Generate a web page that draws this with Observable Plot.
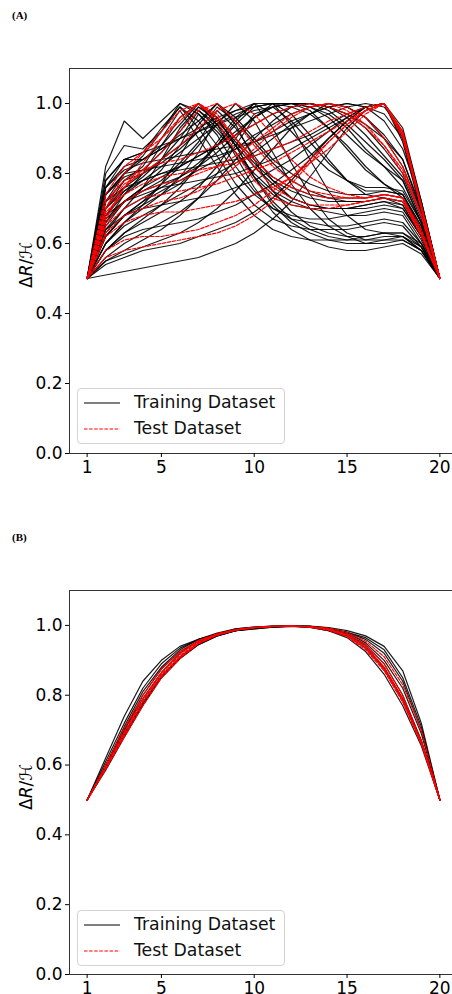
<!DOCTYPE html>
<html><head><meta charset="utf-8">
<script src="https://cdn.jsdelivr.net/npm/d3@7"></script>
<script src="https://cdn.jsdelivr.net/npm/@observablehq/plot@0.6"></script>
<style>
html,body{margin:0;padding:0;overflow:hidden;background:#fff;}
#fig{position:relative;width:452px;height:994px;overflow:hidden;font-family:"DejaVu Sans",sans-serif;color:#000;}
.panel{position:absolute;left:0;width:457px;}
.panel svg{max-width:none !important;}
.plabel{position:absolute;left:12px;font-family:"Liberation Serif",serif;font-weight:bold;font-size:11px;}
.ylab{position:absolute;font-size:17px;transform:translate(-50%,-50%) rotate(-90deg);white-space:nowrap;font-family:"DejaVu Sans",sans-serif;}
.legend{position:absolute;left:77px;width:206px;height:54px;border:1px solid #d3d3d3;border-radius:4px;background:rgba(255,255,255,0.8);}
.legend svg{position:absolute;left:0;top:0;}
.legend .t{position:absolute;left:56px;font-size:17.3px;line-height:20px;white-space:nowrap;color:#111;}
</style></head>
<body>
<div id="fig"></div>
<script>
const xs = [1,2,3,4,5,6,7,8,9,10,11,12,13,14,15,16,17,18,19,20];
const xTicks = [1,5,10,15,20];
const yTicks = [0,0.2,0.4,0.6,0.8,1.0];
const legendLabels = ["Training Dataset","Test Dataset"];

const trainA = [
[0.5,0.82,0.95,0.90,0.95,1.00,0.97,0.92,0.86,0.80,0.75,0.72,0.70,0.69,0.68,0.68,0.69,0.68,0.60,0.5],
[0.5,0.80,0.88,0.87,0.92,1.00,0.98,0.94,0.88,0.82,0.77,0.73,0.71,0.70,0.70,0.70,0.71,0.70,0.62,0.5],
[0.5,0.76,0.84,0.86,0.93,0.99,0.95,0.88,0.80,0.74,0.70,0.67,0.66,0.65,0.65,0.66,0.67,0.66,0.60,0.5],
[0.5,0.72,0.80,0.85,0.92,0.99,0.93,0.85,0.77,0.71,0.67,0.65,0.64,0.64,0.64,0.65,0.66,0.65,0.59,0.5],
[0.5,0.70,0.78,0.82,0.90,0.98,0.90,0.82,0.74,0.68,0.64,0.62,0.61,0.61,0.61,0.62,0.63,0.62,0.58,0.5],
[0.5,0.78,0.84,0.84,0.88,0.94,1.00,0.96,0.90,0.84,0.79,0.76,0.74,0.73,0.73,0.73,0.74,0.73,0.64,0.5],
[0.5,0.74,0.80,0.81,0.86,0.92,0.99,0.95,0.89,0.83,0.78,0.75,0.73,0.72,0.72,0.72,0.73,0.71,0.62,0.5],
[0.5,0.68,0.75,0.79,0.84,0.90,0.98,0.93,0.86,0.79,0.74,0.71,0.70,0.70,0.70,0.71,0.72,0.70,0.62,0.5],
[0.5,0.65,0.72,0.76,0.81,0.88,0.97,0.91,0.82,0.75,0.70,0.68,0.67,0.67,0.68,0.69,0.70,0.69,0.61,0.5],
[0.5,0.76,0.82,0.84,0.87,0.91,0.95,1.00,0.96,0.90,0.84,0.80,0.77,0.75,0.74,0.74,0.75,0.74,0.65,0.5],
[0.5,0.72,0.78,0.80,0.83,0.87,0.92,0.99,0.95,0.89,0.83,0.78,0.75,0.73,0.72,0.72,0.73,0.72,0.63,0.5],
[0.5,0.66,0.72,0.75,0.78,0.83,0.89,0.98,0.93,0.85,0.78,0.73,0.71,0.70,0.70,0.71,0.72,0.71,0.62,0.5],
[0.5,0.60,0.66,0.70,0.74,0.79,0.86,0.96,0.88,0.79,0.72,0.67,0.64,0.62,0.61,0.61,0.62,0.62,0.58,0.5],
[0.5,0.62,0.68,0.71,0.74,0.77,0.82,0.88,0.95,1.00,0.97,0.92,0.86,0.81,0.78,0.76,0.76,0.75,0.66,0.5],
[0.5,0.58,0.63,0.66,0.69,0.72,0.76,0.82,0.90,0.97,0.99,0.95,0.89,0.83,0.78,0.75,0.75,0.74,0.65,0.5],
[0.5,0.74,0.80,0.84,0.87,0.90,0.93,0.96,0.98,0.99,1.00,1.00,0.99,0.97,0.93,0.87,0.82,0.76,0.66,0.5],
[0.5,0.70,0.76,0.80,0.84,0.88,0.92,0.95,0.98,1.00,1.00,0.99,0.97,0.93,0.88,0.82,0.77,0.73,0.64,0.5],
[0.5,0.68,0.74,0.78,0.82,0.86,0.90,0.94,0.97,0.99,1.00,1.00,1.00,0.99,0.97,0.93,0.87,0.80,0.68,0.5],
[0.5,0.66,0.72,0.76,0.79,0.82,0.85,0.88,0.91,0.94,0.97,0.99,1.00,0.99,0.96,0.91,0.85,0.79,0.67,0.5],
[0.5,0.62,0.68,0.72,0.75,0.78,0.81,0.84,0.87,0.91,0.94,0.97,0.99,1.00,0.99,0.96,0.90,0.82,0.69,0.5],
[0.5,0.60,0.65,0.68,0.71,0.74,0.77,0.80,0.83,0.86,0.90,0.94,0.97,0.99,1.00,0.99,0.95,0.87,0.72,0.5],
[0.5,0.72,0.76,0.78,0.80,0.81,0.82,0.83,0.84,0.85,0.87,0.89,0.91,0.94,0.97,0.99,1.00,0.93,0.72,0.5],
[0.5,0.68,0.72,0.74,0.76,0.77,0.78,0.79,0.80,0.82,0.84,0.87,0.90,0.93,0.96,0.99,1.00,0.91,0.70,0.5],
[0.5,0.64,0.68,0.70,0.71,0.72,0.73,0.74,0.76,0.78,0.81,0.84,0.88,0.92,0.96,0.99,1.00,0.90,0.70,0.5],
[0.5,0.58,0.62,0.64,0.65,0.66,0.67,0.69,0.71,0.74,0.77,0.81,0.85,0.90,0.95,0.99,1.00,0.89,0.69,0.5],
[0.5,0.54,0.56,0.58,0.59,0.60,0.62,0.64,0.66,0.69,0.73,0.78,0.84,0.90,0.95,0.99,1.00,0.90,0.70,0.5],
[0.5,0.51,0.52,0.53,0.54,0.55,0.56,0.58,0.60,0.63,0.67,0.72,0.79,0.86,0.93,0.98,1.00,0.91,0.71,0.5],
[0.5,0.66,0.74,0.80,0.88,0.96,1.00,0.94,0.85,0.76,0.69,0.64,0.61,0.59,0.58,0.58,0.59,0.60,0.57,0.5],
[0.5,0.63,0.70,0.76,0.84,0.93,0.99,0.96,0.88,0.79,0.71,0.66,0.63,0.61,0.60,0.60,0.61,0.61,0.58,0.5],
[0.5,0.60,0.66,0.71,0.77,0.85,0.94,1.00,0.94,0.84,0.75,0.69,0.65,0.63,0.62,0.62,0.63,0.63,0.59,0.5],
[0.5,0.62,0.68,0.72,0.77,0.82,0.88,0.94,1.00,0.95,0.86,0.77,0.70,0.65,0.62,0.60,0.60,0.61,0.58,0.5],
[0.5,0.58,0.63,0.67,0.71,0.76,0.82,0.89,0.96,1.00,0.93,0.83,0.74,0.67,0.63,0.61,0.61,0.62,0.59,0.5],
[0.5,0.55,0.58,0.61,0.64,0.68,0.73,0.80,0.88,0.96,1.00,0.94,0.84,0.75,0.68,0.64,0.63,0.63,0.60,0.5],
[0.5,0.78,0.84,0.86,0.88,0.90,0.92,0.94,0.96,0.98,0.99,1.00,1.00,0.99,0.97,0.94,0.90,0.84,0.70,0.5],
[0.5,0.76,0.81,0.83,0.84,0.85,0.86,0.87,0.88,0.89,0.91,0.93,0.95,0.97,0.99,1.00,0.99,0.92,0.72,0.5],
[0.5,0.74,0.79,0.81,0.82,0.83,0.84,0.85,0.87,0.89,0.92,0.95,0.97,0.99,1.00,0.99,0.97,0.90,0.71,0.5],
[0.5,0.70,0.75,0.78,0.80,0.82,0.85,0.88,0.92,0.96,0.99,1.00,0.99,0.96,0.91,0.86,0.82,0.78,0.66,0.5],
[0.5,0.67,0.72,0.75,0.77,0.79,0.82,0.86,0.91,0.96,0.99,1.00,0.98,0.93,0.87,0.81,0.77,0.74,0.64,0.5],
[0.5,0.64,0.70,0.73,0.76,0.79,0.83,0.88,0.94,0.99,1.00,0.97,0.91,0.84,0.78,0.74,0.73,0.72,0.63,0.5],
[0.5,0.56,0.60,0.63,0.66,0.69,0.73,0.78,0.84,0.90,0.95,0.99,1.00,0.98,0.94,0.89,0.84,0.78,0.66,0.5],
[0.5,0.55,0.57,0.59,0.61,0.63,0.66,0.70,0.75,0.81,0.87,0.93,0.97,1.00,0.99,0.96,0.91,0.84,0.69,0.5]
];

const testA = [
[0.5,0.70,0.80,0.86,0.92,0.98,1.00,0.96,0.90,0.84,0.79,0.76,0.74,0.73,0.73,0.73,0.74,0.73,0.64,0.5],
[0.5,0.68,0.76,0.81,0.86,0.92,0.98,1.00,0.95,0.88,0.82,0.78,0.75,0.74,0.73,0.73,0.74,0.73,0.63,0.5],
[0.5,0.72,0.78,0.81,0.83,0.84,0.86,0.88,0.91,0.94,0.97,0.99,1.00,0.99,0.97,0.93,0.88,0.80,0.68,0.5],
[0.5,0.69,0.74,0.77,0.79,0.80,0.81,0.82,0.83,0.85,0.87,0.89,0.92,0.95,0.97,0.99,1.00,0.92,0.71,0.5],
[0.5,0.66,0.72,0.75,0.77,0.78,0.80,0.82,0.85,0.89,0.93,0.97,0.99,1.00,0.98,0.94,0.88,0.81,0.68,0.5],
[0.5,0.65,0.70,0.73,0.74,0.75,0.76,0.77,0.79,0.81,0.83,0.86,0.89,0.92,0.95,0.98,1.00,0.91,0.70,0.5],
[0.5,0.63,0.68,0.70,0.72,0.73,0.75,0.78,0.82,0.87,0.92,0.96,0.99,1.00,0.99,0.96,0.90,0.82,0.68,0.5],
[0.5,0.62,0.66,0.68,0.69,0.69,0.70,0.71,0.72,0.74,0.76,0.79,0.83,0.87,0.92,0.97,1.00,0.92,0.71,0.5],
[0.5,0.58,0.61,0.62,0.62,0.63,0.64,0.66,0.68,0.71,0.75,0.79,0.84,0.89,0.94,0.98,1.00,0.91,0.70,0.5],
[0.5,0.56,0.58,0.59,0.60,0.61,0.62,0.63,0.65,0.68,0.72,0.77,0.83,0.89,0.94,0.98,1.00,0.90,0.70,0.5],
[0.5,0.74,0.82,0.86,0.90,0.95,1.00,0.97,0.90,0.82,0.76,0.73,0.71,0.71,0.71,0.72,0.73,0.72,0.63,0.5],
[0.5,0.70,0.77,0.80,0.84,0.88,0.93,0.98,1.00,0.97,0.91,0.84,0.79,0.76,0.74,0.73,0.74,0.73,0.63,0.5],
[0.5,0.67,0.76,0.83,0.90,0.96,1.00,0.95,0.86,0.78,0.73,0.71,0.70,0.70,0.71,0.72,0.73,0.72,0.62,0.5]
];

const trainB = [
[0.5,0.62,0.74,0.84,0.90,0.94,0.96,0.975,0.985,0.99,0.995,0.997,0.997,0.99,0.975,0.945,0.89,0.80,0.67,0.5],
[0.5,0.61,0.72,0.82,0.89,0.935,0.96,0.975,0.985,0.99,0.995,0.997,0.996,0.99,0.98,0.96,0.92,0.84,0.70,0.5],
[0.5,0.60,0.70,0.79,0.865,0.92,0.955,0.975,0.99,0.995,0.998,0.999,0.997,0.99,0.975,0.94,0.88,0.79,0.67,0.5],
[0.5,0.59,0.69,0.78,0.855,0.91,0.95,0.97,0.985,0.993,0.997,0.998,0.996,0.99,0.98,0.965,0.93,0.85,0.71,0.5],
[0.5,0.585,0.68,0.77,0.85,0.905,0.945,0.97,0.985,0.993,0.997,0.998,0.995,0.985,0.965,0.925,0.86,0.77,0.655,0.5],
[0.5,0.595,0.70,0.80,0.875,0.925,0.955,0.975,0.987,0.993,0.996,0.998,0.997,0.992,0.98,0.95,0.90,0.82,0.69,0.5],
[0.5,0.60,0.71,0.81,0.88,0.93,0.96,0.978,0.99,0.995,0.998,0.998,0.994,0.985,0.97,0.935,0.875,0.785,0.665,0.5],
[0.5,0.59,0.685,0.775,0.85,0.905,0.945,0.97,0.985,0.992,0.996,0.998,0.998,0.994,0.985,0.97,0.94,0.87,0.72,0.5]
];

const testB = [
[0.5,0.595,0.695,0.79,0.865,0.92,0.955,0.975,0.988,0.994,0.997,0.998,0.996,0.99,0.975,0.945,0.89,0.80,0.67,0.5],
[0.5,0.59,0.685,0.78,0.855,0.91,0.95,0.972,0.986,0.993,0.997,0.998,0.996,0.988,0.97,0.935,0.875,0.785,0.665,0.5],
[0.5,0.60,0.705,0.80,0.875,0.925,0.957,0.976,0.988,0.994,0.997,0.998,0.997,0.992,0.98,0.955,0.91,0.83,0.70,0.5],
[0.5,0.588,0.68,0.77,0.85,0.905,0.947,0.972,0.987,0.994,0.997,0.998,0.995,0.986,0.968,0.93,0.87,0.78,0.66,0.5],
[0.5,0.592,0.69,0.785,0.86,0.915,0.952,0.974,0.987,0.993,0.997,0.998,0.996,0.989,0.973,0.94,0.88,0.79,0.665,0.5]
];

function toRows(series) {
  const rows = [];
  series.forEach((s, i) => s.forEach((v, j) => rows.push({id: i, x: xs[j], y: v})));
  return rows;
}

const fig = document.getElementById("fig");

function makePanel(train, test, opts) {
  const chart = Plot.plot({
    width: 457,
    height: opts.height,
    marginLeft: 69,
    marginRight: 0,
    marginTop: 68,
    marginBottom: opts.marginBottom,
    style: {fontFamily: "'DejaVu Sans', sans-serif", fontSize: "17px", color: "#000", background: "transparent", overflow: "visible", maxWidth: "none"},
    x: {domain: [0.05, 20.95]},
    y: {domain: [0, 1.1]},
    marks: [
      Plot.line(toRows(train), {x: "x", y: "y", z: "id", stroke: "#000", strokeWidth: 1.2, strokeOpacity: 0.9}),
      Plot.line(toRows(test), {x: "x", y: "y", z: "id", stroke: "#ff0000", strokeWidth: 1.2, strokeDasharray: "3.5,1.6"}),
      Plot.frame({stroke: "#333", strokeWidth: 1}),
      Plot.axisY({ticks: yTicks, tickSize: 4, tickPadding: 3, tickFormat: d3.format(".1f"), label: null}),
      Plot.axisX({ticks: xTicks, tickSize: 4, tickPadding: 3, tickFormat: d3.format("d"), label: null})
    ]
  });
  const wrap = document.createElement("div");
  wrap.className = "panel";
  wrap.style.top = opts.top + "px";
  wrap.appendChild(chart);
  fig.appendChild(wrap);

  const pl = document.createElement("div");
  pl.className = "plabel";
  pl.style.top = opts.labelTop + "px";
  pl.textContent = opts.label;
  fig.appendChild(pl);

  const yl = document.createElement("div");
  yl.className = "ylab";
  yl.style.left = "26px";
  yl.style.top = (opts.top + 265) + "px";
  yl.innerHTML = "Δ<i>R</i>/ℋ";
  fig.appendChild(yl);

  const lg = document.createElement("div");
  lg.className = "legend";
  lg.style.top = opts.legendTop + "px";
  lg.innerHTML =
    '<svg width="206" height="54">' +
    '<line x1="6" x2="42" y1="14" y2="14" stroke="#000" stroke-width="1.2"/>' +
    '<line x1="6" x2="42" y1="40" y2="40" stroke="#ff0000" stroke-width="1.2" stroke-dasharray="3.5,1.6"/>' +
    '</svg>' +
    '<div class="t" style="top:3px">' + legendLabels[0] + '</div>' +
    '<div class="t" style="top:29px">' + legendLabels[1] + '</div>';
  fig.appendChild(lg);
}

makePanel(trainA, testA, {top: 0, height: 490, marginBottom: 37, label: "(A)", labelTop: 9, legendTop: 388});
makePanel(trainB, testB, {top: 522, height: 472, marginBottom: 20, label: "(B)", labelTop: 531, legendTop: 910});
</script>
</body></html>
